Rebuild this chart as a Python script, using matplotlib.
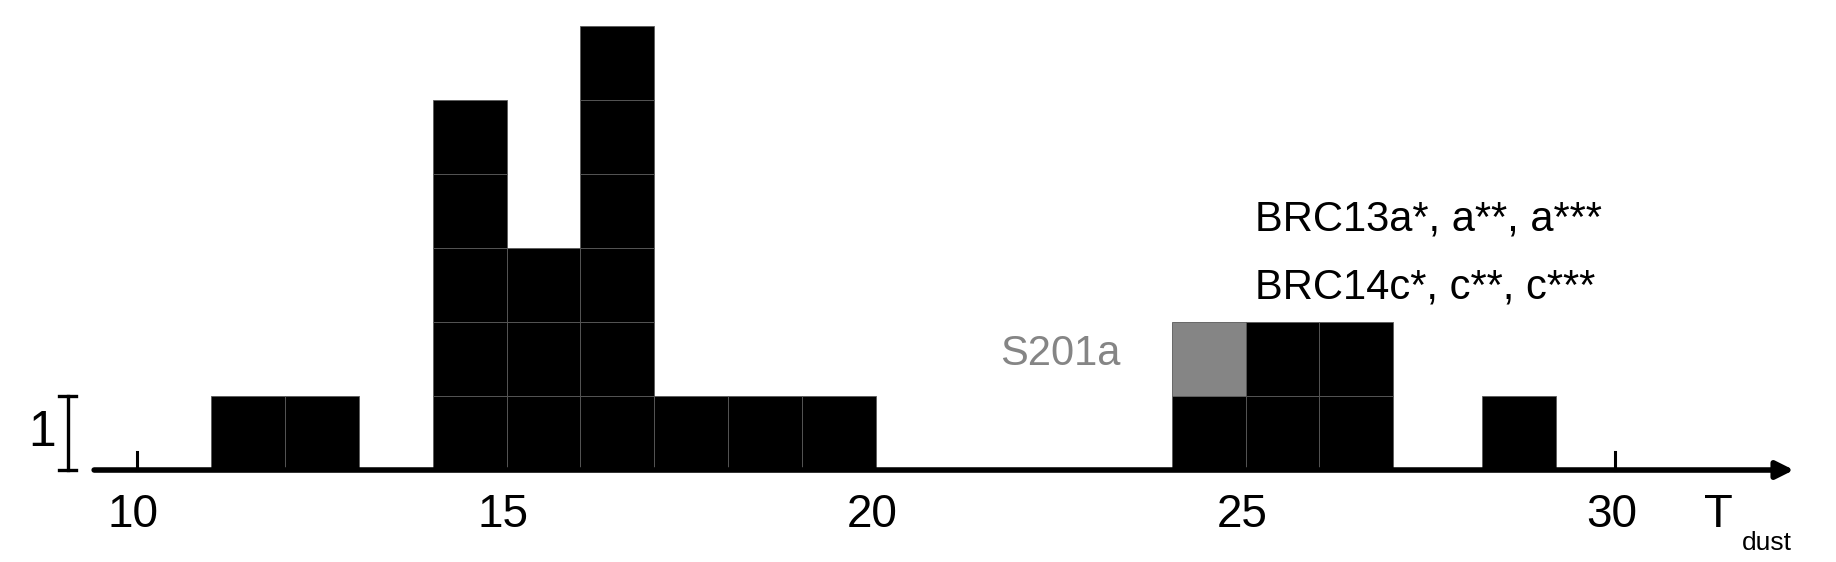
import matplotlib
matplotlib.use('Agg')
import matplotlib.pyplot as plt

plt.rcParams['font.family'] = ['Liberation Sans', 'DejaVu Sans']

# histogram of dust temperatures, one square per source
bin_left = [11, 12, 14, 15, 16, 17, 18, 19, 24, 25, 26, 28.2]
counts = [1, 1, 5, 3, 6, 1, 1, 1, 2, 2, 2, 1]
gray_bins = [24]  # top square of this bin is S201a
tick_vals = [10, 15, 20, 25, 30]
tick_marks = [10, 30]

fig = plt.figure(figsize=(18.36, 5.62), dpi=100)
ax = fig.add_axes([0, 0, 1, 1])
ax.set_xlim(8.146, 32.99)
ax.set_ylim(-1.243, 6.351)
ax.axis('off')

for left, n in zip(bin_left, counts):
    for k in range(n):
        c = '#858585' if (left in gray_bins and k == n - 1) else 'black'
        ax.bar(left, 1, bottom=k, width=1, align='edge', color=c,
               edgecolor='#5a5a5a', linewidth=0.6, zorder=2)

# axis with arrow
ax.annotate('', xy=(32.42, 0), xytext=(9.42, 0),
            arrowprops=dict(arrowstyle='-|>', lw=4, color='black',
                            mutation_scale=26, shrinkA=0, shrinkB=0),
            zorder=3)
for t in tick_marks:
    ax.plot([t, t], [0, 0.24], color='black', lw=2.2, zorder=3)
for t in tick_vals:
    ax.text(t - 0.05, -0.61, str(t), fontsize=33, ha='center', va='center')
ax.text(31.2, -0.61, 'T', fontsize=34, ha='left', va='center')
ax.text(31.72, -0.98, 'dust', fontsize=19, ha='left', va='center')

# scale bar
ax.plot([9.066, 9.066], [0, 1], color='black', lw=2.4)
ax.plot([8.95, 9.18], [0, 0], color='black', lw=2.4)
ax.plot([8.95, 9.18], [1, 1], color='black', lw=2.4)
ax.text(8.72, 0.5, '1', fontsize=36, ha='center', va='center')

# labels
ax.text(22.5, 1.57, 'S201a', fontsize=30, color='#858585', ha='center', va='center')
ax.text(25.13, 3.39, 'BRC13a*, a**, a***', fontsize=30, ha='left', va='center')
ax.text(25.13, 2.47, 'BRC14c*, c**, c***', fontsize=30, ha='left', va='center')

fig.savefig('out.png', dpi=100)
